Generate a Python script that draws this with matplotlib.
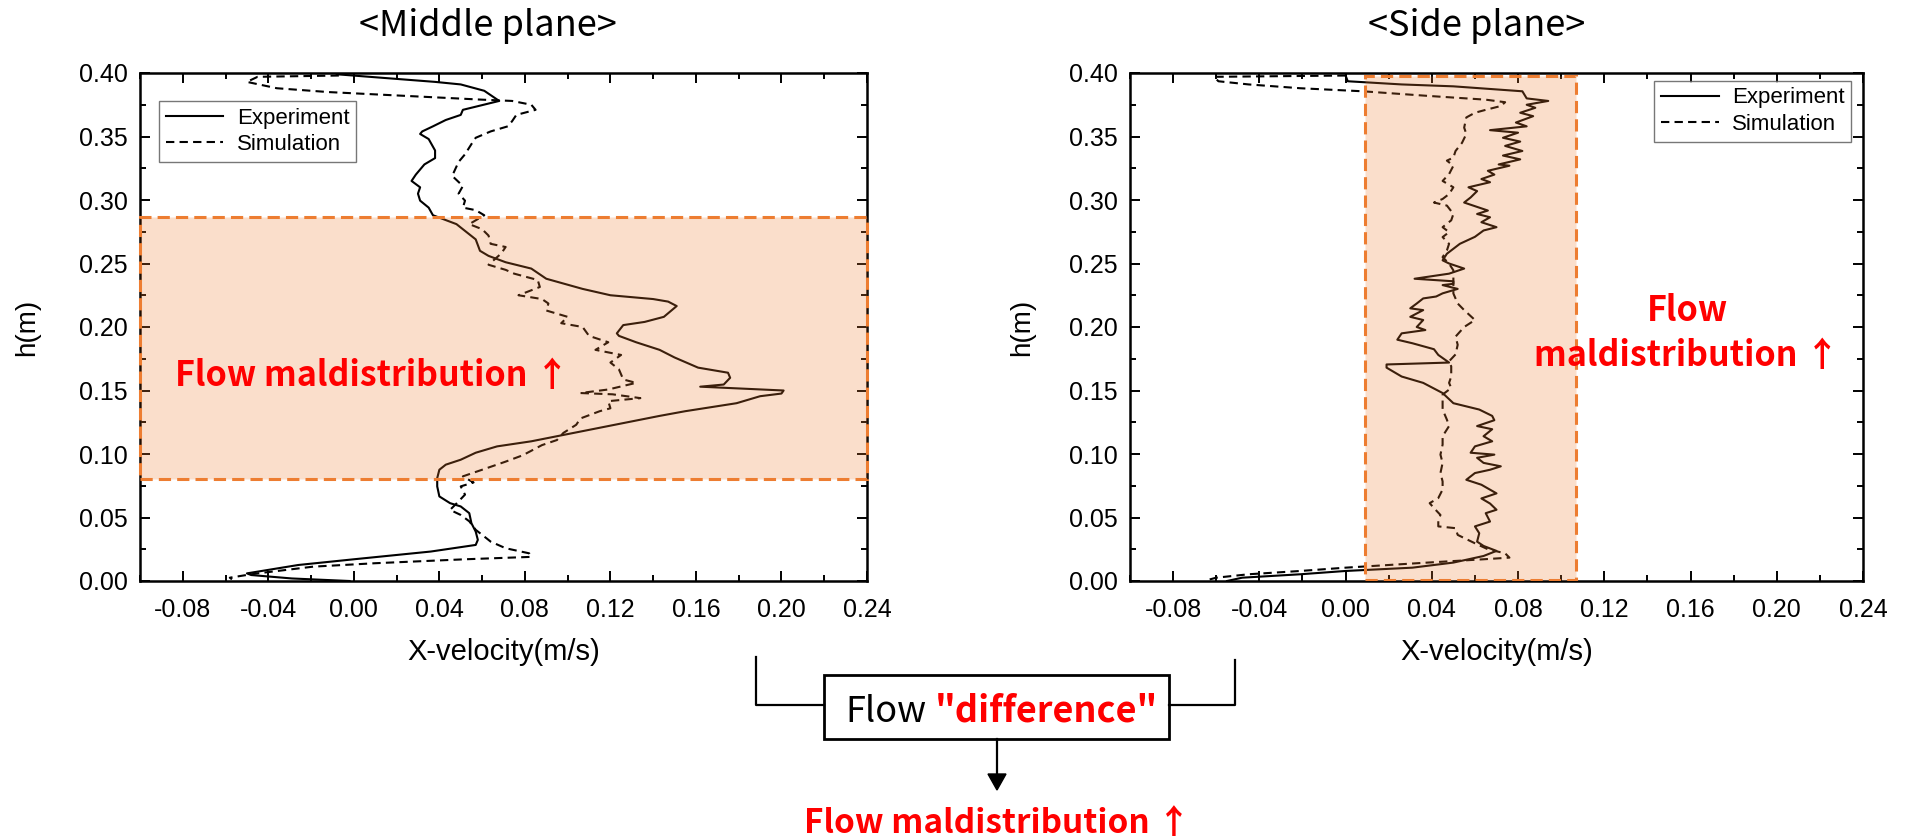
import matplotlib
matplotlib.use("Agg")
import matplotlib.pyplot as plt
from matplotlib.patches import Rectangle, FancyArrow
from matplotlib.lines import Line2D

plt.rcParams['font.family'] = ['Liberation Sans', 'DejaVu Sans']
plt.rcParams['axes.unicode_minus'] = False

# ---------------- data ----------------
mid_exp_v = [-0.008, 0.038, 0.050, 0.061, 0.068, 0.051, 0.050, 0.043, 0.037, 0.032, 0.031, 0.035,
             0.038, 0.038, 0.033, 0.029, 0.027, 0.031, 0.030, 0.031, 0.035, 0.037, 0.048, 0.057,
             0.059, 0.063, 0.071, 0.083, 0.090, 0.107, 0.120, 0.140, 0.147, 0.151, 0.145, 0.136,
             0.126, 0.123, 0.124, 0.132, 0.143, 0.150, 0.161, 0.175, 0.176, 0.173, 0.162, 0.201,
             0.200, 0.190, 0.179, 0.155, 0.143, 0.119, 0.095, 0.083, 0.067, 0.057, 0.050, 0.043,
             0.040, 0.039, 0.039, 0.040, 0.045, 0.050, 0.054, 0.055, 0.057, 0.058, 0.057, 0.036,
             0.000, -0.026, -0.050, -0.048, -0.029, -0.002]
mid_exp_h = [0.399, 0.393, 0.391, 0.386, 0.378, 0.371, 0.367, 0.363, 0.358, 0.354, 0.352, 0.348,
             0.339, 0.333, 0.328, 0.320, 0.315, 0.310, 0.305, 0.2995, 0.294, 0.288, 0.281, 0.269,
             0.260, 0.256, 0.251, 0.246, 0.238, 0.230, 0.225, 0.222, 0.220, 0.2165, 0.208, 0.204,
             0.2015, 0.195, 0.193, 0.188, 0.182, 0.176, 0.168, 0.164, 0.160, 0.1547, 0.153, 0.150,
             0.1476, 0.1455, 0.140, 0.1337, 0.130, 0.122, 0.114, 0.110, 0.106, 0.101, 0.0955, 0.0916,
             0.0876, 0.081, 0.0745, 0.0666, 0.0613, 0.0587, 0.0534, 0.0455, 0.0389, 0.0324, 0.0284, 0.0232,
             0.0171, 0.0126, 0.006, 0.0047, 0.002, 0.0]

mid_sim_v = [-0.007, -0.045, -0.050, -0.036, -0.012, 0.024, 0.060, 0.074, 0.083, 0.085, 0.076, 0.074,
             0.072, 0.064, 0.057, 0.055, 0.052, 0.049, 0.046, 0.051, 0.049, 0.052, 0.051, 0.057,
             0.061, 0.054, 0.060, 0.063, 0.064, 0.071, 0.069, 0.063, 0.071, 0.075, 0.086, 0.087,
             0.077, 0.088, 0.091, 0.090, 0.100, 0.097, 0.107, 0.110, 0.119, 0.113, 0.125, 0.120,
             0.124, 0.126, 0.132, 0.119, 0.106, 0.121, 0.134, 0.119, 0.120, 0.115, 0.106, 0.104,
             0.098, 0.095, 0.088, 0.079, 0.071, 0.060, 0.051, 0.056, 0.050, 0.052, 0.048, 0.045,
             0.050, 0.054, 0.057, 0.062, 0.064, 0.071, 0.082, 0.083, 0.052, 0.010, -0.019, -0.045,
             -0.051, -0.058, -0.057]
mid_sim_h = [0.398, 0.397, 0.393, 0.388, 0.385, 0.382, 0.379, 0.378, 0.375, 0.371, 0.367, 0.362,
             0.358, 0.354, 0.349, 0.344, 0.336, 0.330, 0.319, 0.311, 0.305, 0.2995, 0.294, 0.292,
             0.288, 0.281, 0.277, 0.272, 0.2655, 0.263, 0.258, 0.249, 0.245, 0.242, 0.237, 0.2315,
             0.225, 0.222, 0.2185, 0.213, 0.208, 0.203, 0.200, 0.193, 0.188, 0.182, 0.178, 0.172,
             0.1666, 0.1587, 0.156, 0.1508, 0.148, 0.147, 0.144, 0.1416, 0.136, 0.1337, 0.128, 0.123,
             0.1166, 0.111, 0.107, 0.099, 0.094, 0.0876, 0.0824, 0.0776, 0.0745, 0.068, 0.061, 0.056,
             0.052, 0.047, 0.0403, 0.0337, 0.031, 0.0258, 0.0218, 0.019, 0.0171, 0.014, 0.0113, 0.006,
             0.0045, 0.0026, 0.0013]

side_exp_v = [0.000, 0.001, 0.026, 0.050, 0.082, 0.084, 0.094, 0.084, 0.088, 0.081, 0.087, 0.079,
              0.084, 0.067, 0.080, 0.073, 0.081, 0.074, 0.082, 0.073, 0.081, 0.071, 0.076, 0.066,
              0.069, 0.063, 0.067, 0.057, 0.061, 0.058, 0.055, 0.066, 0.061, 0.067, 0.063, 0.070,
              0.064, 0.060, 0.053, 0.050, 0.047, 0.045, 0.048, 0.055, 0.048, 0.032, 0.050, 0.050,
              0.045, 0.052, 0.050, 0.045, 0.042, 0.036, 0.033, 0.030, 0.036, 0.030, 0.036, 0.033,
              0.037, 0.026, 0.024, 0.031, 0.041, 0.043, 0.048, 0.019, 0.019, 0.026, 0.036, 0.045,
              0.050, 0.062, 0.068, 0.069, 0.061, 0.068, 0.064, 0.068, 0.060, 0.058, 0.069, 0.061,
              0.064, 0.072, 0.067, 0.060, 0.056, 0.063, 0.070, 0.063, 0.067, 0.070, 0.065, 0.067,
              0.060, 0.062, 0.061, 0.064, 0.070, 0.064, 0.050, 0.031, 0.0095, 0.000, -0.021, -0.048,
              -0.055]
side_exp_h = [0.398, 0.3935, 0.391, 0.3895, 0.3856, 0.380, 0.378, 0.375, 0.3726, 0.3687, 0.366, 0.361,
              0.358, 0.355, 0.353, 0.349, 0.346, 0.3426, 0.3386, 0.335, 0.332, 0.328, 0.327, 0.323,
              0.320, 0.3165, 0.314, 0.310, 0.307, 0.302, 0.298, 0.2917, 0.289, 0.2864, 0.2825, 0.2786,
              0.276, 0.271, 0.2655, 0.2616, 0.2577, 0.2525, 0.250, 0.246, 0.242, 0.238, 0.236, 0.234,
              0.233, 0.230, 0.229, 0.2265, 0.224, 0.2225, 0.2185, 0.2147, 0.2133, 0.208, 0.2055, 0.200,
              0.1976, 0.195, 0.190, 0.1872, 0.1825, 0.178, 0.172, 0.1705, 0.168, 0.161, 0.156, 0.148,
              0.140, 0.135, 0.130, 0.1266, 0.122, 0.1195, 0.114, 0.110, 0.106, 0.101, 0.0995, 0.097,
              0.093, 0.0903, 0.0876, 0.085, 0.0797, 0.0758, 0.069, 0.065, 0.061, 0.0561, 0.0534, 0.0468,
              0.043, 0.0376, 0.031, 0.0276, 0.0237, 0.0197, 0.0145, 0.0105, 0.0087, 0.0079, 0.0053, 0.0026,
              0.0]

side_sim_v = [0.000, -0.061, -0.059, -0.045, -0.021, 0.008, 0.038, 0.065, 0.074, 0.072, 0.065, 0.060,
              0.056, 0.055, 0.056, 0.054, 0.051, 0.050, 0.047, 0.050, 0.048, 0.045, 0.050, 0.048,
              0.045, 0.041, 0.047, 0.050, 0.049, 0.045, 0.048, 0.045, 0.048, 0.047, 0.045, 0.048,
              0.050, 0.050, 0.050, 0.052, 0.055, 0.060, 0.055, 0.051, 0.052, 0.051, 0.048, 0.049,
              0.049, 0.048, 0.049, 0.045, 0.045, 0.045, 0.047, 0.048, 0.045, 0.045, 0.044, 0.045,
              0.044, 0.045, 0.045, 0.043, 0.039, 0.041, 0.044, 0.043, 0.043, 0.051, 0.052, 0.060,
              0.066, 0.074, 0.076, 0.064, 0.038, 0.000, -0.021, -0.045, -0.060, -0.064]
side_sim_h = [0.398, 0.397, 0.3935, 0.391, 0.388, 0.3856, 0.382, 0.379, 0.377, 0.374, 0.371, 0.3687,
              0.365, 0.357, 0.352, 0.345, 0.3386, 0.3334, 0.331, 0.327, 0.3204, 0.315, 0.310, 0.3047,
              0.3008, 0.298, 0.2956, 0.289, 0.284, 0.2786, 0.2747, 0.2708, 0.2655, 0.2603, 0.255, 0.2499,
              0.2446, 0.234, 0.2264, 0.2185, 0.2133, 0.2055, 0.200, 0.1924, 0.186, 0.1784, 0.173, 0.169,
              0.161, 0.156, 0.152, 0.1468, 0.140, 0.135, 0.127, 0.122, 0.114, 0.1074, 0.0995, 0.093,
              0.085, 0.0784, 0.072, 0.0653, 0.0613, 0.0574, 0.052, 0.0482, 0.043, 0.0416, 0.0363, 0.0297,
              0.025, 0.0218, 0.0184, 0.0171, 0.0145, 0.0105, 0.0079, 0.0053, 0.0026, 0.0008]

x_ticks = [-0.08, -0.04, 0.00, 0.04, 0.08, 0.12, 0.16, 0.20, 0.24]
x_tick_labels = ['-0.08', '-0.04', '0.00', '0.04', '0.08', '0.12', '0.16', '0.20', '0.24']
y_ticks = [0.00, 0.05, 0.10, 0.15, 0.20, 0.25, 0.30, 0.35, 0.40]
y_tick_labels = ['0.00', '0.05', '0.10', '0.15', '0.20', '0.25', '0.30', '0.35', '0.40']
titles = ['<Middle plane>', '<Side plane>']
series_names = ['Experiment', 'Simulation']
mid_band_h = (0.080, 0.287)       # highlighted height band, middle plane
side_band_v = (0.009, 0.107)      # highlighted velocity band, side plane
side_band_h = (0.001, 0.398)

# ---------------- figure ----------------
W, H = 1906, 840
fig = plt.figure(figsize=(W / 100, H / 100), dpi=100)

def fx(px):
    return px / W

def fy(py):
    return 1 - py / H

ax1 = fig.add_axes([fx(140), fy(581), fx(867) - fx(140), fy(73) - fy(581)])
ax2 = fig.add_axes([fx(1130), fy(581), fx(1863) - fx(1130), fy(73) - fy(581)])

ORANGE = '#ED7D31'
CJK = ['Noto Sans CJK KR', 'DejaVu Sans']

def style(ax):
    ax.set_xlim(-0.1, 0.24)
    ax.set_ylim(0.0, 0.40)
    ax.set_xticks(x_ticks)
    ax.set_xticklabels(x_tick_labels)
    ax.set_yticks(y_ticks)
    ax.set_yticklabels(y_tick_labels)
    ax.set_xticks([t + 0.02 for t in [-0.12] + x_ticks[:-1]], minor=True)
    ax.set_yticks([t + 0.025 for t in y_ticks[:-1]], minor=True)
    ax.tick_params(which='both', direction='in', top=True, right=True, width=1.4)
    ax.tick_params(which='major', length=7, labelsize=18)
    ax.tick_params(axis='x', which='major', pad=12)
    ax.tick_params(axis='y', which='major', pad=9)
    ax.tick_params(which='minor', length=4)
    for s in ax.spines.values():
        s.set_linewidth(1.8)
    ax.set_xlabel('X-velocity(m/s)', fontsize=21)
    ax.set_ylabel('h(m)', fontsize=20)

style(ax1)
style(ax2)
ax1.yaxis.set_label_coords(-0.138, 0.5)
ax2.yaxis.set_label_coords(-0.129, 0.5)
ax1.xaxis.set_label_coords(0.5, -0.112)
ax2.xaxis.set_label_coords(0.5, -0.112)

# curves
for ax, ev, eh, sv, sh in [(ax1, mid_exp_v, mid_exp_h, mid_sim_v, mid_sim_h),
                           (ax2, side_exp_v, side_exp_h, side_sim_v, side_sim_h)]:
    ax.plot(ev, eh, color='black', lw=1.5, ls='-', label=series_names[0], zorder=2)
    ax.plot(sv, sh, color='black', lw=1.5, ls=(0, (4, 2.5)), label=series_names[1], zorder=2)

# highlighted bands (semi-transparent, drawn on top of curves)
ax1.add_patch(Rectangle((-0.1, mid_band_h[0]), 0.34, mid_band_h[1] - mid_band_h[0],
                        facecolor=(0.93, 0.49, 0.19, 0.25), edgecolor=ORANGE, lw=2.2,
                        ls=(0, (4, 2)), zorder=3, clip_on=False))
ax2.add_patch(Rectangle((side_band_v[0], side_band_h[0]), side_band_v[1] - side_band_v[0],
                        side_band_h[1] - side_band_h[0],
                        facecolor=(0.93, 0.49, 0.19, 0.25), edgecolor=ORANGE, lw=2.2,
                        ls=(0, (4, 2)), zorder=3))

# legends
leg1 = ax1.legend(loc='upper left', bbox_to_anchor=(0.026, 0.945), borderaxespad=0,
                  fontsize=16, frameon=True, fancybox=False, edgecolor='#555555',
                  handlelength=2.6, handletextpad=0.6, labelspacing=0.25, borderpad=0.3)
leg2 = ax2.legend(loc='upper right', bbox_to_anchor=(0.984, 0.985), borderaxespad=0,
                  fontsize=16, frameon=True, fancybox=False, edgecolor='#555555',
                  handlelength=2.6, handletextpad=0.6, labelspacing=0.25, borderpad=0.3)
for lg in (leg1, leg2):
    lg.get_frame().set_linewidth(1.0)
    lg.set_zorder(5)

# red annotations inside the panels
ax1.text(0.0085, 0.162, 'Flow maldistribution ↑', color='#FF0000', fontsize=24.5,
         fontweight='bold', family=CJK, ha='center', va='center', zorder=6)
ax2.text(0.1584, 0.195, 'Flow\nmaldistribution ↑', color='#FF0000', fontsize=24.5,
         fontweight='bold', family=CJK, ha='center', va='center', zorder=6,
         linespacing=1.35)

# titles
fig.text(fx(488), fy(36), titles[0], fontsize=26, family=CJK, ha='center', va='baseline')
fig.text(fx(1477), fy(36), titles[1], fontsize=26, family=CJK, ha='center', va='baseline')

# bottom connector diagram
lw_b = 1.6
for xs, ys in [([756, 756, 824], [657, 705, 705]), ([1235, 1235, 1169], [660, 705, 705])]:
    fig.add_artist(Line2D([fx(x) for x in xs], [fy(y) for y in ys], color='black', lw=lw_b))
fig.add_artist(Rectangle((fx(824), fy(739)), fx(1169) - fx(824), fy(675) - fy(739),
                         transform=fig.transFigure, facecolor='white', edgecolor='black', lw=2))
fig.text(fx(845), fy(722), 'Flow', fontsize=26, family=CJK, ha='left', va='baseline', color='black')
fig.text(fx(935), fy(722), '"difference"', fontsize=26, family=CJK, fontweight='bold',
         ha='left', va='baseline', color='#FF0000')
fig.add_artist(Line2D([fx(997), fx(997)], [fy(739), fy(776)], color='black', lw=1.6))
fig.add_artist(FancyArrow(fx(997), fy(774), 0, fy(790) - fy(774), width=0, head_width=fx(18),
                          head_length=fy(774) - fy(790), length_includes_head=True,
                          transform=fig.transFigure, color='black'))
fig.text(fx(997), fy(833), 'Flow maldistribution ↑', fontsize=24, family=CJK, fontweight='bold',
         ha='center', va='baseline', color='#FF0000')

fig.savefig('out.png', dpi=100)
